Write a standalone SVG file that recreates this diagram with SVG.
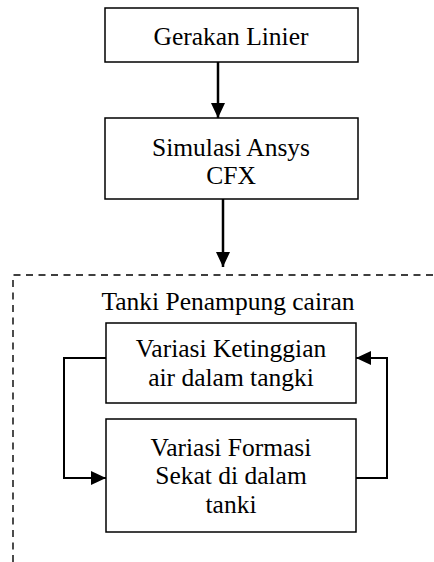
<svg xmlns="http://www.w3.org/2000/svg" width="434" height="562" viewBox="0 0 434 562">
<style>
.box{fill:#fff;stroke:#000;stroke-width:1.5}
.t{font-family:"Liberation Serif","Times New Roman",serif;font-size:25.5px;fill:#000;text-anchor:middle}
.c{fill:none;stroke:#000;stroke-width:2}
.m{fill:none;stroke:#000;stroke-width:2.5}
.d{fill:none;stroke:#000;stroke-width:1.4;stroke-dasharray:7 5.5}
</style>
<defs>
<marker id="ah" markerUnits="userSpaceOnUse" markerWidth="15" markerHeight="14" refX="15" refY="7" orient="auto">
<path d="M0,0 L15,7 L0,14 z" fill="#000"/>
</marker>
</defs>
<rect fill="#fff" width="434" height="562"/>
<g id="container">
<path class="d" d="M13,562 L13,275 L434,275"/>
<text class="t" x="228" y="310">Tanki Penampung cairan</text>
</g>
<g id="n1">
<rect class="box" x="105" y="8" width="253" height="54"/>
<text class="t" x="231" y="45">Gerakan Linier</text>
</g>
<g id="n2">
<rect class="box" x="105" y="118" width="253" height="81"/>
<text class="t" x="231" y="156">Simulasi Ansys</text>
<text class="t" x="231" y="184">CFX</text>
</g>
<g id="n3">
<rect class="box" x="106" y="323" width="250" height="80"/>
<text class="t" x="231" y="357">Variasi Ketinggian</text>
<text class="t" x="231" y="386">air dalam tangki</text>
</g>
<g id="n4">
<rect class="box" x="106" y="419" width="250" height="113"/>
<text class="t" x="231" y="456">Variasi Formasi</text>
<text class="t" x="231" y="484">Sekat di dalam</text>
<text class="t" x="231" y="513">tanki</text>
</g>
<g id="connectors">
<path class="m" d="M218,62 L218,118" marker-end="url(#ah)"/>
<path class="m" d="M223,199 L223,267" marker-end="url(#ah)"/>
<path class="c" d="M106,358 L64,358 L64,478 L106,478" marker-end="url(#ah)"/>
<path class="c" d="M356,478 L387,478 L387,358 L356,358" marker-end="url(#ah)"/>
</g>
</svg>
